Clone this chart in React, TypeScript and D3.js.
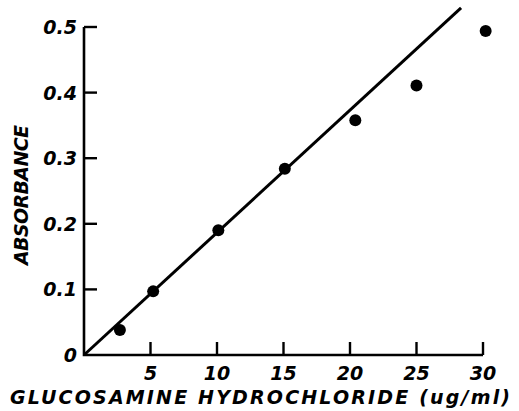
import * as d3 from "d3";

// concentration of glucosamine HCl (ug/ml) and measured absorbance
const conc = [2.7, 5.2, 10.1, 15.1, 20.4, 25, 30.2];
const absorbance = [0.038, 0.097, 0.19, 0.284, 0.358, 0.411, 0.494];

// fitted standard line
const fitX = [0, 28.35];
const fitY = [0, 0.529];

const xTicks = [5, 10, 15, 20, 25, 30];
const yTicks = [0, 0.1, 0.2, 0.3, 0.4, 0.5];
const yTickLabels = ["0", "0.1", "0.2", "0.3", "0.4", "0.5"];

const W = 519;
const H = 411;
const font = "'DejaVu Sans', sans-serif";

export default function App() {
  const x = d3.scaleLinear().domain([0, 30]).range([84, 483]);
  const y = d3.scaleLinear().domain([0, 0.5]).range([355, 27]);

  const line = d3
    .line<number>()
    .x((d) => x(d))
    .y((_, i) => y(fitY[i]));

  return (
    <svg
      width={W}
      height={H}
      style={{ position: "absolute", left: 0, top: 0, background: "#fff" }}
    >
      {/* axes */}
      <path
        d={`M${x(0)},${y(0.5)}V${y(0)}H${x(30)}`}
        fill="none"
        stroke="#000"
        strokeWidth={2.6}
      />
      {yTicks.slice(1).map((t) => (
        <line
          key={"yt" + t}
          x1={x(0)}
          x2={x(0) + 13}
          y1={y(t)}
          y2={y(t)}
          stroke="#000"
          strokeWidth={2.4}
        />
      ))}
      {xTicks.map((t) => (
        <line
          key={"xt" + t}
          x1={x(t)}
          x2={x(t)}
          y1={y(0)}
          y2={y(0) - 13}
          stroke="#000"
          strokeWidth={2.4}
        />
      ))}

      {/* tick labels */}
      {yTicks.map((t, i) => (
        <text
          key={"yl" + t}
          x={x(0) - 7}
          y={y(t) + 7}
          textAnchor="end"
          fontFamily={font}
          fontStyle="italic"
          fontWeight="bold"
          fontSize={19}
        >
          {yTickLabels[i]}
        </text>
      ))}
      {xTicks.map((t) => (
        <text
          key={"xl" + t}
          x={x(t)}
          y={380}
          textAnchor="middle"
          fontFamily={font}
          fontStyle="italic"
          fontWeight="bold"
          fontSize={19}
        >
          {t}
        </text>
      ))}

      {/* fit line */}
      <path d={line(fitX) ?? ""} fill="none" stroke="#000" strokeWidth={3} />

      {/* points */}
      {conc.map((c, i) => (
        <circle key={i} cx={x(c)} cy={y(absorbance[i])} r={6} fill="#000" />
      ))}

      {/* axis titles */}
      <text
        x={10}
        y={404}
        textLength={500}
        lengthAdjust="spacing"
        fontFamily={font}
        fontStyle="italic"
        fontWeight="bold"
        fontSize={19}
      >
        GLUCOSAMINE HYDROCHLORIDE (ug/ml)
      </text>
      <text
        transform="translate(28,195) rotate(-90)"
        textAnchor="middle"
        textLength={140}
        lengthAdjust="spacing"
        fontFamily={font}
        fontStyle="italic"
        fontWeight="bold"
        fontSize={19}
      >
        ABSORBANCE
      </text>
    </svg>
  );
}
